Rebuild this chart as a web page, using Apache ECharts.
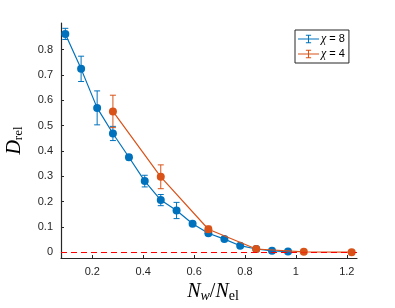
<!DOCTYPE html>
<html>
<head>
<meta charset="utf-8">
<script src="https://cdn.jsdelivr.net/npm/echarts@6/dist/echarts.min.js"></script>
<style>html,body{margin:0;padding:0;background:#fff}#c{width:395px;height:308px}</style>
</head>
<body>
<div id="c"></div>
<script>
// Data
var xBlue = [0.094,0.156,0.219,0.281,0.344,0.406,0.469,0.531,0.594,0.656,0.719,0.781,0.844,0.906,0.969];
var yBlue = [0.862,0.724,0.570,0.469,0.375,0.281,0.206,0.165,0.113,0.075,0.052,0.026,0.013,0.006,0.003];
var errBlue = [0.022,0.050,0.067,0.028,0.010,0.023,0.022,0.032,0.006,0.006,0.005,0.004,0.003,0.002,0.001];
var xOrange = [0.281,0.469,0.656,0.844,1.031,1.219];
var yOrange = [0.556,0.298,0.091,0.013,0.002,0.0005];
var errOrange = [0.064,0.047,0.012,0.003,0.001,0.0005];
var xTicks = [0.2,0.4,0.6,0.8,1,1.2];
var yTicks = [0,0.1,0.2,0.3,0.4,0.5,0.6,0.7,0.8];
var names = ['χ = 8','χ = 4'];

var BLUE = '#0072BD', ORANGE = '#D95319', AX = '#262626';

function pts(xs, ys){ return xs.map(function(x,i){ return [x, ys[i]]; }); }
function errData(xs, ys, es){ return xs.map(function(x,i){ return [x, ys[i], es[i]]; }); }
function errRender(color){
  return function(params, api){
    var x = api.value(0), y = api.value(1), e = api.value(2);
    var t = api.coord([x, y + e]), b = api.coord([x, y - e]);
    var hw = 3;
    var st = {stroke: color, lineWidth: 1};
    return {type:'group', children:[
      {type:'line', shape:{x1:t[0],y1:t[1],x2:b[0],y2:b[1]}, style:st},
      {type:'line', shape:{x1:t[0]-hw,y1:t[1],x2:t[0]+hw,y2:t[1]}, style:st},
      {type:'line', shape:{x1:b[0]-hw,y1:b[1],x2:b[0]+hw,y2:b[1]}, style:st}
    ]};
  };
}
var ebIcon = 'path://M0,9L40,9L40,11L0,11Z M19,3L21,3L21,17L19,17Z M15,2L25,2L25,4L15,4Z M15,16L25,16L25,18L15,18Z';

var chart = echarts.init(document.getElementById('c'), null, {renderer:'canvas'});
chart.setOption({
  animation:false,
  backgroundColor:'#fff',
  grid:{left:61, right:38, top:23, bottom:50, containLabel:false, outerBoundsMode:'none'},
  legend:{
    orient:'vertical', left:295, top:30,
    itemWidth:21, itemHeight:11, itemGap:3,
    padding:[3,4,3,3],
    borderColor:AX, borderWidth:1, borderRadius:0,
    backgroundColor:'#fff',
    data:[{name:names[0], icon:ebIcon},{name:names[1], icon:ebIcon}],
    formatter:function(n){ return n.replace('χ','{i|χ}'); },
    textStyle:{fontFamily:'Liberation Sans', fontSize:11, color:'#000', padding:[0,0,0,-3],
      rich:{i:{fontFamily:'Liberation Serif', fontStyle:'italic', fontSize:12, color:'#000'}}}
  },
  xAxis:{
    type:'value', min:0.077, max:1.24,
    name:'{it|N}{sw|w}{op|/}{it|N}{sr|el}',
    nameLocation:'middle', nameGap:23,
    nameTextStyle:{padding:[0,0,0,8], rich:{
      it:{fontFamily:'Liberation Serif', fontStyle:'italic', fontSize:20, color:'#000'},
      op:{fontFamily:'Liberation Serif', fontSize:20, color:'#000'},
      sw:{fontFamily:'Liberation Serif', fontStyle:'italic', fontSize:14, color:'#000', padding:[8,0,0,0]},
      sr:{fontFamily:'Liberation Serif', fontSize:14, color:'#000', padding:[8,0,0,0]}
    }},
    axisLine:{onZero:false, lineStyle:{color:AX, width:1.2}},
    axisTick:{inside:true, length:3, lineStyle:{color:AX}, customValues:xTicks},
    axisLabel:{customValues:xTicks, color:AX, fontFamily:'Liberation Sans', fontSize:11, margin:8},
    splitLine:{show:false}
  },
  yAxis:{
    type:'value', min:-0.0225, max:0.905,
    name:'{it|D}{sr|rel}',
    nameLocation:'middle', nameRotate:90, nameGap:36,
    nameTextStyle:{rich:{
      it:{fontFamily:'Liberation Serif', fontStyle:'italic', fontSize:20, color:'#000'},
      sr:{fontFamily:'Liberation Serif', fontSize:13, color:'#000', padding:[8,0,0,0]}
    }},
    axisLine:{show:true, onZero:false, lineStyle:{color:AX, width:1.2}},
    axisTick:{show:true, inside:true, length:3, lineStyle:{color:AX}, customValues:yTicks},
    axisLabel:{customValues:yTicks, color:AX, fontFamily:'Liberation Sans', fontSize:11, margin:8},
    splitLine:{show:false}
  },
  series:[
    {type:'line', name:'zero', data:[], z:1, silent:true,
      markLine:{silent:true, symbol:'none', label:{show:false},
        lineStyle:{color:'#FF0000', type:[6,4], width:1.2},
        data:[{yAxis:0}]}},
    {type:'line', name:names[0], data:pts(xBlue,yBlue), color:BLUE, z:2,
      symbol:'circle', symbolSize:8, lineStyle:{width:1.2, color:BLUE}, itemStyle:{color:BLUE}},
    {type:'custom', name:names[0], data:errData(xBlue,yBlue,errBlue), z:3,
      renderItem:errRender(BLUE), color:BLUE},
    {type:'line', name:names[1], data:pts(xOrange,yOrange), color:ORANGE, z:4,
      symbol:'circle', symbolSize:8, lineStyle:{width:1.2, color:ORANGE}, itemStyle:{color:ORANGE}},
    {type:'custom', name:names[1], data:errData(xOrange,yOrange,errOrange), z:5,
      renderItem:errRender(ORANGE), color:ORANGE}
  ]
});
</script>
</body>
</html>
